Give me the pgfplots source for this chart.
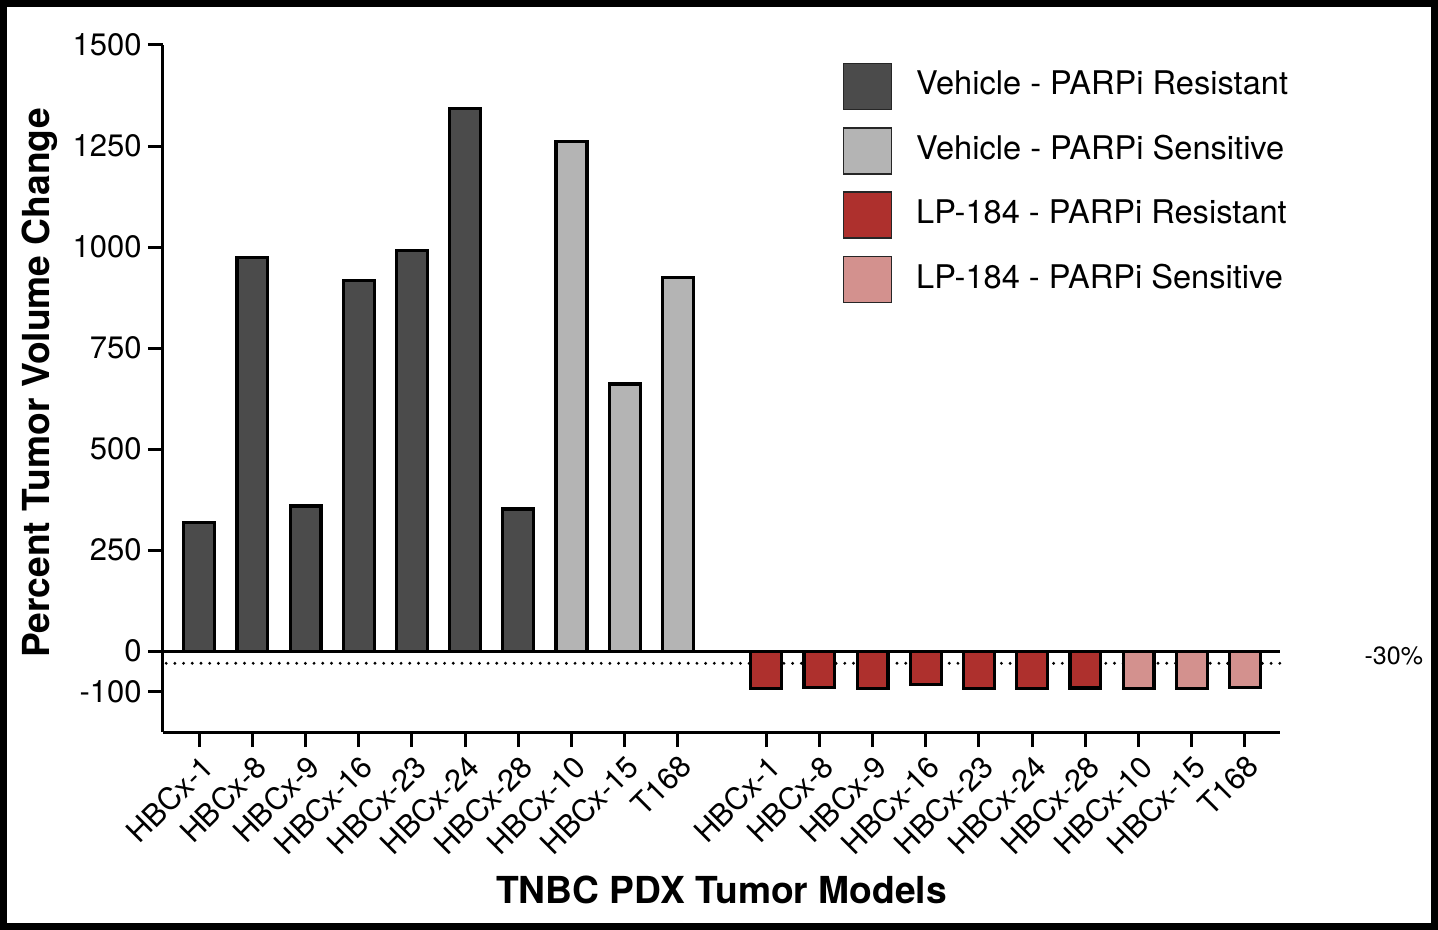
\documentclass[border=0pt]{standalone}
\usepackage{pgfplots}
\pgfplotsset{compat=1.18}
\usepackage{fontspec}
\setmainfont{TeX Gyre Heros}

\definecolor{resgrey}{RGB}{75,75,75}
\definecolor{sensgrey}{RGB}{180,180,180}
\definecolor{resred}{RGB}{174,48,45}
\definecolor{sensred}{RGB}{211,145,142}

\pgfplotsset{
  mybar/.style={ybar, bar width=0.58, bar shift=0pt, draw=black,
    line width=1.6pt, fill=#1,
    legend image code/.code={
      \draw[fill=#1, draw=black!85, line width=0.8pt]
        (0pt,-12.5pt) rectangle (24pt,10.5pt);}},
}

\begin{document}
\begin{tikzpicture}
\begin{axis}[
  name=ax,
  scale only axis,
  width=558.5pt, height=343.5pt,
  xmin=-0.68, xmax=20.32,
  ymin=-200, ymax=1500,
  clip=false,
  axis x line*=bottom,
  axis y line*=left,
  axis line style={line width=1.5pt, -},
  tick align=outside,
  major tick length=7.5pt,
  tick style={line width=1.5pt, black},
  ytick={-100,0,250,500,750,1000,1250,1500},
  yticklabels={-100,0,250,500,750,1000,1250,1500},
  yticklabel style={font=\fontsize{15.5}{18}\selectfont, inner sep=3pt},
  xtick={0,1,2,3,4,5,6,7,8,9,10.66,11.66,12.66,13.66,14.66,15.66,16.66,17.66,18.66,19.66},
  xticklabels={HBCx-1,HBCx-8,HBCx-9,HBCx-16,HBCx-23,HBCx-24,HBCx-28,HBCx-10,HBCx-15,T168,
               HBCx-1,HBCx-8,HBCx-9,HBCx-16,HBCx-23,HBCx-24,HBCx-28,HBCx-10,HBCx-15,T168},
  xticklabel style={rotate=45, anchor=north east, font=\fontsize{15.2}{18}\selectfont, inner sep=2pt},
  xlabel={TNBC PDX Tumor Models},
  xlabel style={at={(axis description cs:0.5,-0.23)}, anchor=center,
    font=\bfseries\fontsize{18.6}{22}\selectfont},
  ylabel={Percent Tumor Volume Change},
  ylabel style={at={(axis description cs:-0.110,0.508)}, anchor=center,
    font=\bfseries\fontsize{18.6}{22}\selectfont},
  legend style={at={(axis description cs:0.608,0.975)}, anchor=north west,
    draw=none, fill=none, inner sep=0pt, row sep=8.4pt,
    font=\fontsize{16.3}{19}\selectfont, cells={anchor=west},
    /tikz/every odd column/.append style={column sep=10pt}},
]
% reference lines
\draw[line width=1.6pt, line cap=round, dash pattern=on 0pt off 4.35pt]
  (axis cs:-0.62,-30) -- (axis cs:20.32,-30);
\draw[line width=1.5pt] (axis cs:-0.68,0) -- (axis cs:20.32,0);

% vehicle
\addplot[mybar=resgrey] coordinates {
  (0,318) (1,974) (2,359) (3,918) (4,992) (5,1343) (6,352)};
\addplot[mybar=sensgrey] coordinates {
  (7,1261) (8,661) (9,925)};
% LP-184
\addplot[mybar=resred] coordinates {
  (10.66,-93) (11.66,-90) (12.66,-92) (13.66,-82) (14.66,-92) (15.66,-92) (16.66,-91)};
\addplot[mybar=sensred] coordinates {
  (17.66,-93) (18.66,-93) (19.66,-90)};
\legend{Vehicle - PARPi Resistant, Vehicle - PARPi Sensitive,
        LP-184 - PARPi Resistant, LP-184 - PARPi Sensitive}

\node[font=\fontsize{12.5}{15}\selectfont] at (axis cs:22.46,-12) {-30\%};
\end{axis}
\draw[line width=3.5pt]
  ([shift={(-79.75pt,-97.25pt)}]ax.south west) rectangle
  ([shift={(77.25pt,20.75pt)}]ax.north east);
\end{tikzpicture}
\end{document}
